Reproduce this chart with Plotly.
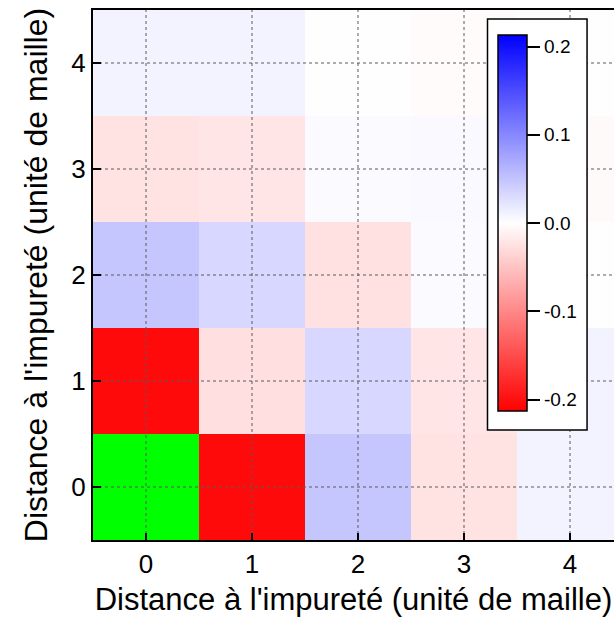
import plotly.graph_objects as go

# distances (lattice units) along both axes
dist = [0, 1, 2, 3, 4]

# values per row (y = 0..4), columns x = 0..4; impurity site left empty
row0 = [None, -0.205, 0.048, -0.024, 0.010]
row1 = [-0.205, -0.027, 0.033, -0.022, 0.010]
row2 = [0.048, 0.033, -0.025, 0.004, 0.001]
row3 = [-0.024, -0.022, 0.004, 0.005, -0.004]
row4 = [0.010, 0.010, 0.001, -0.003, 0.001]

# impurity site, drawn in green
imp_x = [0]
imp_y = [0]

cbar_ticks = [-0.2, -0.1, 0.0, 0.1, 0.2]
cbar_labels = ['-0.2', '-0.1', '0.0', '0.1', '0.2']

title = "Distance à l'impureté (unité de maille)"
font = 'Liberation Sans, Arial, sans-serif'

fig = go.Figure()

fig.add_trace(go.Heatmap(
    x=dist, y=dist, z=[row0, row1, row2, row3, row4],
    zmin=-0.213, zmax=0.213,
    colorscale=[[0, 'rgb(255,0,0)'], [0.5, 'rgb(255,255,255)'], [1, 'rgb(0,0,255)']],
    hoverongaps=False,
    colorbar=dict(
        x=0.76, xanchor='left', y=0.598, yanchor='middle',
        lenmode='pixels', len=408, thickness=29,
        xpad=9, ypad=16,
        bgcolor='white', bordercolor='black', borderwidth=1.5,
        outlinecolor='black', outlinewidth=1.5,
        ticks='outside', ticklen=13, tickwidth=1.5, tickcolor='black',
        tickvals=cbar_ticks, ticktext=cbar_labels,
        tickfont=dict(size=19, color='black', family=font),
    ),
))

fig.add_trace(go.Heatmap(
    x=imp_x, y=imp_y, z=[[1]],
    colorscale=[[0, 'rgb(0,255,0)'], [1, 'rgb(0,255,0)']],
    showscale=False, hoverinfo='skip',
))

# dotted grid drawn over the cells
for t in dist:
    fig.add_trace(go.Scatter(x=[t, t], y=[-0.5, 4.5], mode='lines',
                             line=dict(color='rgb(90,90,90)', width=1, dash='dot'),
                             showlegend=False, hoverinfo='skip'))
    fig.add_trace(go.Scatter(x=[-0.5, 4.5], y=[t, t], mode='lines',
                             line=dict(color='rgb(90,90,90)', width=1, dash='dot'),
                             showlegend=False, hoverinfo='skip'))

fig.update_layout(
    width=614, height=623,
    margin=dict(l=93, r=0, t=10, b=83),
    paper_bgcolor='white', plot_bgcolor='white',
    showlegend=False,
    font=dict(family=font, color='black'),
    xaxis=dict(
        range=[-0.5, 4.415], tickvals=dist, showgrid=False, zeroline=False,
        ticks='inside', ticklen=7, tickwidth=2, tickcolor='black',
        showline=True, linecolor='black', linewidth=2, mirror=True,
        tickfont=dict(size=26), ticklabelstandoff=0, layer='above traces',
        title=dict(text=title, font=dict(size=31), standoff=10),
    ),
    yaxis=dict(
        range=[-0.5, 4.5], tickvals=dist, showgrid=False, zeroline=False,
        ticks='inside', ticklen=8, tickwidth=2, tickcolor='black',
        showline=True, linecolor='black', linewidth=2,
        tickfont=dict(size=26), ticklabelstandoff=0, layer='above traces',
        title=dict(text=title, font=dict(size=32), standoff=14),
    ),
)

# drop the page's default body margin so the figure sits at the window corner
fig.write_html('out.html', config={'displayModeBar': False},
               post_script="document.body.style.margin='0';document.body.style.overflow='hidden';")
